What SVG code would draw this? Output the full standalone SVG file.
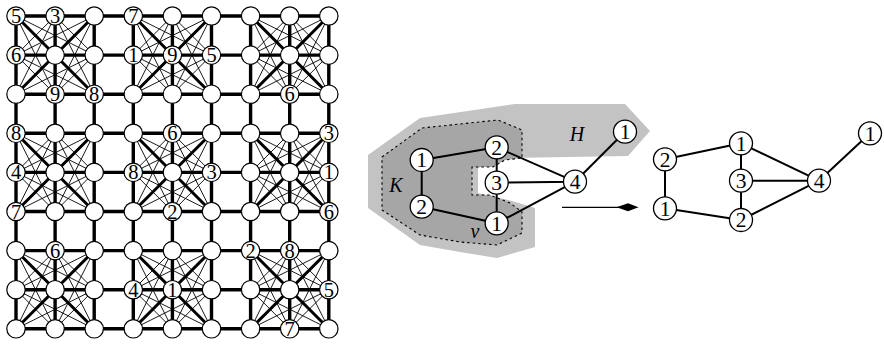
<svg xmlns="http://www.w3.org/2000/svg" xmlns:xlink="http://www.w3.org/1999/xlink" width="884" height="347" viewBox="0 0 884 347">
<style>
.thick{stroke:#000;stroke-width:3.4;fill:none;stroke-linecap:square}
.diag{stroke:#000;stroke-width:3;fill:none}
.thin{stroke:#000;stroke-width:0.9;fill:none}
.gc{fill:#fff;stroke:#000;stroke-width:1.2}
.gt{font-family:"Liberation Serif","Times New Roman",serif;font-size:20.5px;text-anchor:middle;fill:#000}
.nc{fill:#fff;stroke:#000;stroke-width:1.3}
.nt{font-family:"Liberation Serif","Times New Roman",serif;font-size:21.5px;text-anchor:middle;fill:#000}
.edge{stroke:#000;stroke-width:2;fill:none}
.lbl{font-family:"Liberation Serif","Times New Roman",serif;font-size:20px;font-style:italic;text-anchor:middle;fill:#000}
</style>
<defs>
<g id="blk">
<path class="thin" d="M39.1,0L0,39.1M39.1,0L78.2,39.1M0,39.1L39.1,78.2M78.2,39.1L39.1,78.2M0,0L78.2,39.1M0,0L39.1,78.2M78.2,0L0,39.1M78.2,0L39.1,78.2M0,78.2L78.2,39.1M0,78.2L39.1,0M78.2,78.2L0,39.1M78.2,78.2L39.1,0"/>
<path class="diag" d="M0,0L78.2,78.2M78.2,0L0,78.2"/>
</g>
<circle id="gc" class="gc" r="9.2"/>
<circle id="nc" class="nc" r="11.5"/>
</defs>

<!-- Sudoku graph -->
<g id="connectors">
<g id="grid-blocks">
<use xlink:href="#blk" x="16" y="16"/><use xlink:href="#blk" x="133.3" y="16"/><use xlink:href="#blk" x="250.6" y="16"/>
<use xlink:href="#blk" x="16" y="133.3"/><use xlink:href="#blk" x="133.3" y="133.3"/><use xlink:href="#blk" x="250.6" y="133.3"/>
<use xlink:href="#blk" x="16" y="250.6"/><use xlink:href="#blk" x="133.3" y="250.6"/><use xlink:href="#blk" x="250.6" y="250.6"/>
</g>
<path id="grid-lines" class="thick" d="M16,16H328.8M16,55.1H328.8M16,94.2H328.8M16,133.3H328.8M16,172.4H328.8M16,211.5H328.8M16,250.6H328.8M16,289.7H328.8M16,328.8H328.8M16,16V328.8M55.1,16V328.8M94.2,16V328.8M133.3,16V328.8M172.4,16V328.8M211.5,16V328.8M250.6,16V328.8M289.7,16V328.8M328.8,16V328.8"/>
</g>

<g id="grid-nodes">
<g id="g00"><use xlink:href="#gc" x="16" y="16"/><text class="gt" x="16" y="23">5</text></g>
<g id="g01"><use xlink:href="#gc" x="55.1" y="16"/><text class="gt" x="55.1" y="23">3</text></g>
<g id="g02"><use xlink:href="#gc" x="94.2" y="16"/></g>
<g id="g03"><use xlink:href="#gc" x="133.3" y="16"/><text class="gt" x="133.3" y="23">7</text></g>
<g id="g04"><use xlink:href="#gc" x="172.4" y="16"/></g>
<g id="g05"><use xlink:href="#gc" x="211.5" y="16"/></g>
<g id="g06"><use xlink:href="#gc" x="250.6" y="16"/></g>
<g id="g07"><use xlink:href="#gc" x="289.7" y="16"/></g>
<g id="g08"><use xlink:href="#gc" x="328.8" y="16"/></g>

<g id="g10"><use xlink:href="#gc" x="16" y="55.1"/><text class="gt" x="16" y="62.1">6</text></g>
<g id="g11"><use xlink:href="#gc" x="55.1" y="55.1"/></g>
<g id="g12"><use xlink:href="#gc" x="94.2" y="55.1"/></g>
<g id="g13"><use xlink:href="#gc" x="133.3" y="55.1"/><text class="gt" x="133.3" y="62.1">1</text></g>
<g id="g14"><use xlink:href="#gc" x="172.4" y="55.1"/><text class="gt" x="172.4" y="62.1">9</text></g>
<g id="g15"><use xlink:href="#gc" x="211.5" y="55.1"/><text class="gt" x="211.5" y="62.1">5</text></g>
<g id="g16"><use xlink:href="#gc" x="250.6" y="55.1"/></g>
<g id="g17"><use xlink:href="#gc" x="289.7" y="55.1"/></g>
<g id="g18"><use xlink:href="#gc" x="328.8" y="55.1"/></g>

<g id="g20"><use xlink:href="#gc" x="16" y="94.2"/></g>
<g id="g21"><use xlink:href="#gc" x="55.1" y="94.2"/><text class="gt" x="55.1" y="101.2">9</text></g>
<g id="g22"><use xlink:href="#gc" x="94.2" y="94.2"/><text class="gt" x="94.2" y="101.2">8</text></g>
<g id="g23"><use xlink:href="#gc" x="133.3" y="94.2"/></g>
<g id="g24"><use xlink:href="#gc" x="172.4" y="94.2"/></g>
<g id="g25"><use xlink:href="#gc" x="211.5" y="94.2"/></g>
<g id="g26"><use xlink:href="#gc" x="250.6" y="94.2"/></g>
<g id="g27"><use xlink:href="#gc" x="289.7" y="94.2"/><text class="gt" x="289.7" y="101.2">6</text></g>
<g id="g28"><use xlink:href="#gc" x="328.8" y="94.2"/></g>

<g id="g30"><use xlink:href="#gc" x="16" y="133.3"/><text class="gt" x="16" y="140.3">8</text></g>
<g id="g31"><use xlink:href="#gc" x="55.1" y="133.3"/></g>
<g id="g32"><use xlink:href="#gc" x="94.2" y="133.3"/></g>
<g id="g33"><use xlink:href="#gc" x="133.3" y="133.3"/></g>
<g id="g34"><use xlink:href="#gc" x="172.4" y="133.3"/><text class="gt" x="172.4" y="140.3">6</text></g>
<g id="g35"><use xlink:href="#gc" x="211.5" y="133.3"/></g>
<g id="g36"><use xlink:href="#gc" x="250.6" y="133.3"/></g>
<g id="g37"><use xlink:href="#gc" x="289.7" y="133.3"/></g>
<g id="g38"><use xlink:href="#gc" x="328.8" y="133.3"/><text class="gt" x="328.8" y="140.3">3</text></g>

<g id="g40"><use xlink:href="#gc" x="16" y="172.4"/><text class="gt" x="16" y="179.4">4</text></g>
<g id="g41"><use xlink:href="#gc" x="55.1" y="172.4"/></g>
<g id="g42"><use xlink:href="#gc" x="94.2" y="172.4"/></g>
<g id="g43"><use xlink:href="#gc" x="133.3" y="172.4"/><text class="gt" x="133.3" y="179.4">8</text></g>
<g id="g44"><use xlink:href="#gc" x="172.4" y="172.4"/></g>
<g id="g45"><use xlink:href="#gc" x="211.5" y="172.4"/><text class="gt" x="211.5" y="179.4">3</text></g>
<g id="g46"><use xlink:href="#gc" x="250.6" y="172.4"/></g>
<g id="g47"><use xlink:href="#gc" x="289.7" y="172.4"/></g>
<g id="g48"><use xlink:href="#gc" x="328.8" y="172.4"/><text class="gt" x="328.8" y="179.4">1</text></g>

<g id="g50"><use xlink:href="#gc" x="16" y="211.5"/><text class="gt" x="16" y="218.5">7</text></g>
<g id="g51"><use xlink:href="#gc" x="55.1" y="211.5"/></g>
<g id="g52"><use xlink:href="#gc" x="94.2" y="211.5"/></g>
<g id="g53"><use xlink:href="#gc" x="133.3" y="211.5"/></g>
<g id="g54"><use xlink:href="#gc" x="172.4" y="211.5"/><text class="gt" x="172.4" y="218.5">2</text></g>
<g id="g55"><use xlink:href="#gc" x="211.5" y="211.5"/></g>
<g id="g56"><use xlink:href="#gc" x="250.6" y="211.5"/></g>
<g id="g57"><use xlink:href="#gc" x="289.7" y="211.5"/></g>
<g id="g58"><use xlink:href="#gc" x="328.8" y="211.5"/><text class="gt" x="328.8" y="218.5">6</text></g>

<g id="g60"><use xlink:href="#gc" x="16" y="250.6"/></g>
<g id="g61"><use xlink:href="#gc" x="55.1" y="250.6"/><text class="gt" x="55.1" y="257.6">6</text></g>
<g id="g62"><use xlink:href="#gc" x="94.2" y="250.6"/></g>
<g id="g63"><use xlink:href="#gc" x="133.3" y="250.6"/></g>
<g id="g64"><use xlink:href="#gc" x="172.4" y="250.6"/></g>
<g id="g65"><use xlink:href="#gc" x="211.5" y="250.6"/></g>
<g id="g66"><use xlink:href="#gc" x="250.6" y="250.6"/><text class="gt" x="250.6" y="257.6">2</text></g>
<g id="g67"><use xlink:href="#gc" x="289.7" y="250.6"/><text class="gt" x="289.7" y="257.6">8</text></g>
<g id="g68"><use xlink:href="#gc" x="328.8" y="250.6"/></g>

<g id="g70"><use xlink:href="#gc" x="16" y="289.7"/></g>
<g id="g71"><use xlink:href="#gc" x="55.1" y="289.7"/></g>
<g id="g72"><use xlink:href="#gc" x="94.2" y="289.7"/></g>
<g id="g73"><use xlink:href="#gc" x="133.3" y="289.7"/><text class="gt" x="133.3" y="296.7">4</text></g>
<g id="g74"><use xlink:href="#gc" x="172.4" y="289.7"/><text class="gt" x="172.4" y="296.7">1</text></g>
<g id="g75"><use xlink:href="#gc" x="211.5" y="289.7"/></g>
<g id="g76"><use xlink:href="#gc" x="250.6" y="289.7"/></g>
<g id="g77"><use xlink:href="#gc" x="289.7" y="289.7"/></g>
<g id="g78"><use xlink:href="#gc" x="328.8" y="289.7"/><text class="gt" x="328.8" y="296.7">5</text></g>

<g id="g80"><use xlink:href="#gc" x="16" y="328.8"/></g>
<g id="g81"><use xlink:href="#gc" x="55.1" y="328.8"/></g>
<g id="g82"><use xlink:href="#gc" x="94.2" y="328.8"/></g>
<g id="g83"><use xlink:href="#gc" x="133.3" y="328.8"/></g>
<g id="g84"><use xlink:href="#gc" x="172.4" y="328.8"/></g>
<g id="g85"><use xlink:href="#gc" x="211.5" y="328.8"/></g>
<g id="g86"><use xlink:href="#gc" x="250.6" y="328.8"/></g>
<g id="g87"><use xlink:href="#gc" x="289.7" y="328.8"/><text class="gt" x="289.7" y="335.8">7</text></g>
<g id="g88"><use xlink:href="#gc" x="328.8" y="328.8"/></g>
</g>

<!-- Middle: regions -->
<g id="regions">
<path id="region-H" fill="#c3c3c3" d="M368,155L420,118L515,104L625,104L650,131L628,156L508,158L478,168L478,193L500,198L512,201L535,208L535,247L497,258L460,252L420,245L368,208Z"/>
<path id="region-K" fill="#a6a6a6" stroke="#000" stroke-width="1.1" stroke-dasharray="2.5,3" d="M382,157L422,128L498,120L522,130L522,158L505,160L493,167L472,167L472,195L490,195L510,203L522,212L522,233L497,245L460,242L420,235L382,210Z"/>
<text class="lbl" x="396" y="192">K</text>
<text class="lbl" x="475" y="238">v</text>
<text class="lbl" x="577" y="141">H</text>
</g>

<g id="connectors-mid">
<path class="edge" d="M421.7,160L421.7,206.7M421.7,160L496.7,147.3M421.7,206.7L496.7,223.3M496.7,147.3L496.7,223.3M496.7,147.3L575,181.7M496.7,182.7L575,181.7M496.7,223.3L575,181.7M575,181.7L625,131.7"/>
</g>
<g id="m-A"><use xlink:href="#nc" x="421.7" y="160"/><text class="nt" x="421.7" y="167.3">1</text></g>
<g id="m-B"><use xlink:href="#nc" x="421.7" y="206.7"/><text class="nt" x="421.7" y="214">2</text></g>
<g id="m-C"><use xlink:href="#nc" x="496.7" y="147.3"/><text class="nt" x="496.7" y="154.6">2</text></g>
<g id="m-D"><use xlink:href="#nc" x="496.7" y="182.7"/><text class="nt" x="496.7" y="190">3</text></g>
<g id="m-E"><use xlink:href="#nc" x="496.7" y="223.3"/><text class="nt" x="496.7" y="230.6">1</text></g>
<g id="m-F"><use xlink:href="#nc" x="575" y="181.7"/><text class="nt" x="575" y="189">4</text></g>
<g id="m-G"><use xlink:href="#nc" x="625" y="131.7"/><text class="nt" x="625" y="139">1</text></g>

<g id="arrow">
<path d="M562,207.3H624" stroke="#000" stroke-width="1.3" fill="none"/>
<polygon points="616.5,207.3 628,203.3 638.5,207.3 628,211.3" fill="#000"/>
</g>

<!-- Right graph -->
<g id="connectors-right">
<path class="edge" d="M665,159.3L665,208.3M665,159.3L741,143.3M665,208.3L741,220M741,143.3L741,220M741,143.3L819,180.7M741,180.7L819,180.7M741,220L819,180.7M819,180.7L870,133.3"/>
</g>
<g id="r-P"><use xlink:href="#nc" x="665" y="159.3"/><text class="nt" x="665" y="166.6">2</text></g>
<g id="r-Q"><use xlink:href="#nc" x="665" y="208.3"/><text class="nt" x="665" y="215.6">1</text></g>
<g id="r-R"><use xlink:href="#nc" x="741" y="143.3"/><text class="nt" x="741" y="150.6">1</text></g>
<g id="r-S"><use xlink:href="#nc" x="741" y="180.7"/><text class="nt" x="741" y="188">3</text></g>
<g id="r-T"><use xlink:href="#nc" x="741" y="220"/><text class="nt" x="741" y="227.3">2</text></g>
<g id="r-U"><use xlink:href="#nc" x="819" y="180.7"/><text class="nt" x="819" y="188">4</text></g>
<g id="r-V"><use xlink:href="#nc" x="870" y="133.3"/><text class="nt" x="870" y="140.6">1</text></g>
</svg>
